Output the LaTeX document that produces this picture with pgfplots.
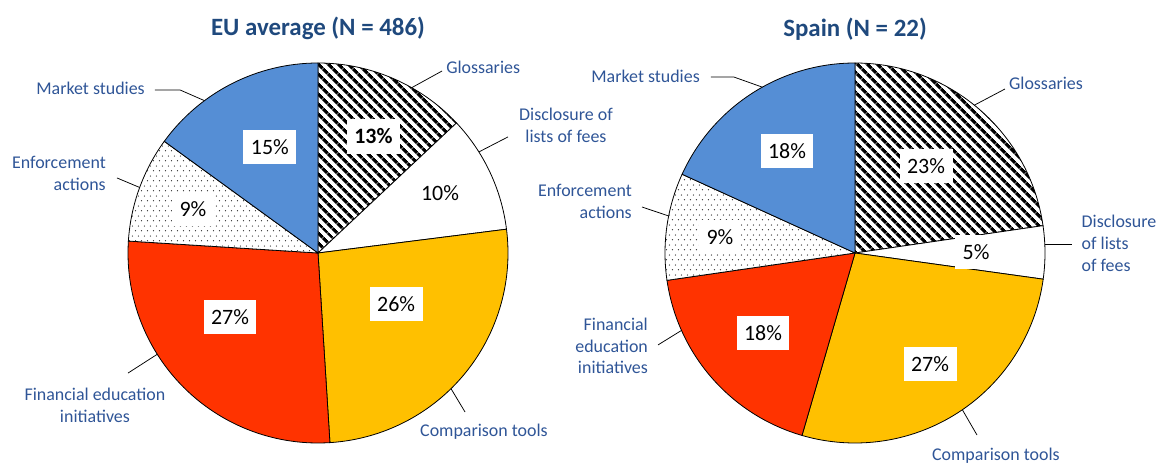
\documentclass[border=0pt]{standalone}
\usepackage{pgfplots}
\pgfplotsset{compat=1.18}
\usepackage{pgfplotstable}
\usepackage{fontspec}
\setmainfont{Carlito}
\usetikzlibrary{patterns.meta}
\definecolor{mkt}{RGB}{85,142,213}
\definecolor{fin}{RGB}{255,51,0}
\definecolor{cmp}{RGB}{255,192,0}
\definecolor{ttl}{RGB}{31,73,125}
\definecolor{lbl}{RGB}{47,85,151}

\pgfdeclarepattern{
  name=stagdots, type=uncolored,
  bottom left={\pgfpoint{0bp}{0bp}},
  top right={\pgfpoint{6.4bp}{9.6bp}},
  tile size={\pgfpoint{6.4bp}{9.6bp}},
  code={
    \pgfpathcircle{\pgfpoint{1.6bp}{2.4bp}}{0.7bp}
    \pgfpathcircle{\pgfpoint{4.8bp}{7.2bp}}{0.7bp}
    \pgfusepath{fill}
  }
}

% order: Glossaries, Disclosure of lists of fees, Comparison tools,
% Financial education initiatives, Enforcement actions, Market studies
\pgfplotstableread{
val
13
10
26
27
9
15
}\eutable
\pgfplotstableread{
val
22.7
4.5
27.3
18.2
9.1
18.2
}\estable

\tikzset{
  s0/.style={fill=white,postaction={pattern={Lines[angle=-45,distance=6.8bp,line width=3.4bp]},pattern color=black}},
  s1/.style={fill=white},
  s2/.style={fill=cmp},
  s3/.style={fill=fin},
  s4/.style={fill=white,postaction={pattern=stagdots,pattern color=black!80}},
  s5/.style={fill=mkt},
  pct/.style={fill=white,inner xsep=7.5bp,inner ysep=9.5bp,font=\fontsize{22}{26}\selectfont,text=black},
  cat/.style={inner sep=0pt,font=\fontsize{18}{22}\selectfont,text=lbl},
  ttlstyle/.style={inner sep=0pt,font=\fontsize{25}{30}\selectfont\bfseries,text=ttl},
  lead/.style={draw=black,line width=0.75bp},
}

\newcommand\drawpie[1]{%
  \pgfplotstablegetrowsof{#1}%
  \pgfmathtruncatemacro\lastrow{\pgfplotsretval-1}%
  \gdef\cumangle{90}%
  \foreach \i in {0,...,\lastrow}{%
    \pgfplotstablegetelem{\i}{val}\of{#1}%
    \pgfmathsetmacro\endangle{\cumangle-3.6*\pgfplotsretval}%
    \edef\doslice{\noexpand\filldraw[s\i,draw=black,line width=0.8bp] (axis cs:0,0) -- (axis cs:{cos(\cumangle)},{sin(\cumangle)}) arc[start angle=\cumangle,end angle=\endangle,radius=190bp] -- cycle;}%
    \doslice
    \global\let\cumangle\endangle
  }%
}

\pgfplotsset{pieaxis/.style={anchor=center,width=380bp,height=380bp,scale only axis,
  xmin=-1,xmax=1,ymin=-1,ymax=1,hide axis,clip=false}}

\begin{document}
\begin{tikzpicture}
\useasboundingbox (0,0) rectangle (1159bp,464bp);
% ---------------- EU average ----------------
\begin{axis}[pieaxis,at={(318bp,211bp)}]
\drawpie{\eutable}
\node[ttlstyle] at (axis cs:0,1.184) {EU average (N = 486)};
\node[pct,font=\fontsize{22}{26}\selectfont\bfseries] at (axis cs:0.292,0.613) {13\%};
\node[pct] at (axis cs:0.642,0.316) {10\%};
\node[pct] at (axis cs:0.411,-0.269) {26\%};
\node[pct] at (axis cs:-0.463,-0.337) {27\%};
\node[pct] at (axis cs:-0.658,0.232) {9\%};
\node[pct] at (axis cs:-0.253,0.558) {15\%};
% category labels
\node[cat,anchor=east] at (axis cs:-0.911,0.868) {Market studies};
\draw[lead] (axis cs:-0.858,0.858) -- (axis cs:-0.726,0.858) -- (axis cs:-0.598,0.802);
\node[cat,anchor=west] at (axis cs:0.674,0.979) {Glossaries};
\draw[lead] (axis cs:0.493,0.870) -- (axis cs:0.653,0.958);
\node[cat,align=center] at (axis cs:1.305,0.674) {Disclosure of\\lists of fees};
\draw[lead] (axis cs:0.847,0.532) -- (axis cs:1.0,0.611);
\node[cat,anchor=east,align=right] at (axis cs:-1.116,0.418) {Enforcement\\actions};
\draw[lead] (axis cs:-1.058,0.395) -- (axis cs:-0.939,0.345);
\node[cat,align=center] at (axis cs:-1.174,-0.80) {Financial education\\initiatives};
\draw[lead] (axis cs:-1.0,-0.632) -- (axis cs:-0.846,-0.533);
\node[cat,anchor=west] at (axis cs:0.537,-0.942) {Comparison tools};
\draw[lead] (axis cs:0.700,-0.714) -- (axis cs:0.774,-0.837);
\end{axis}
% ---------------- Spain ----------------
\begin{axis}[pieaxis,at={(855bp,211bp)}]
\drawpie{\estable}
\node[ttlstyle] at (axis cs:0,1.179) {Spain (N = 22)};
\node[pct] at (axis cs:0.374,0.458) {23\%};
\node[pct] at (axis cs:0.637,0.005) {5\%};
\node[pct] at (axis cs:0.395,-0.584) {27\%};
\node[pct] at (axis cs:-0.484,-0.421) {18\%};
\node[pct] at (axis cs:-0.711,0.084) {9\%};
\node[pct] at (axis cs:-0.358,0.537) {18\%};
% category labels
\node[cat,anchor=east] at (axis cs:-0.816,0.932) {Market studies};
\draw[lead] (axis cs:-0.758,0.926) -- (axis cs:-0.637,0.926) -- (axis cs:-0.488,0.873);
\node[cat,anchor=west] at (axis cs:0.810,0.895) {Glossaries};
\draw[lead] (axis cs:0.628,0.778) -- (axis cs:0.789,0.863);
\node[cat,anchor=west,align=left] at (axis cs:1.192,0.050) {Disclosure\\of lists\\of fees};
\draw[lead] (axis cs:0.999,0.047) -- (axis cs:1.142,0.047);
\node[cat,anchor=west] at (axis cs:0.405,-1.068) {Comparison tools};
\draw[lead] (axis cs:0.565,-0.825) -- (axis cs:0.642,-0.958);
\node[cat,anchor=east,align=right] at (axis cs:-1.089,-0.489) {Financial\\education\\initiatives};
\draw[lead] (axis cs:-1.037,-0.484) -- (axis cs:-0.914,-0.408);
\node[cat,anchor=east,align=right] at (axis cs:-1.174,0.271) {Enforcement\\actions};
\draw[lead] (axis cs:-1.121,0.242) -- (axis cs:-0.981,0.195);
\end{axis}
\end{tikzpicture}
\end{document}
